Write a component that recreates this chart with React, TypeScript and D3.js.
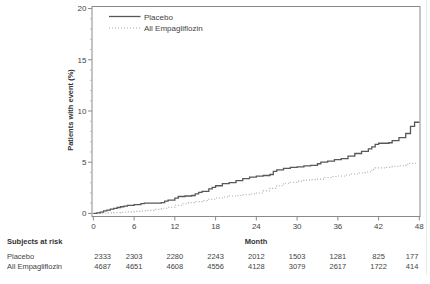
import React from "react";
import * as d3 from "d3";

const xTicks = [0, 6, 12, 18, 24, 30, 36, 42, 48];
const yTicks = [0, 5, 10, 15, 20];
const seriesNames = ["Placebo", "All Empagliflozin"];
const placeboRisk = [2333, 2303, 2280, 2243, 2012, 1503, 1281, 825, 177];
const empaRisk = [4687, 4651, 4608, 4556, 4128, 3079, 2617, 1722, 414];

const placeboMonths = [0, 0.5, 1, 1.5, 2, 2.5, 3, 3.5, 4, 4.5, 5, 6, 7, 7.5, 9, 10, 10.5, 11, 12, 12.5, 13.5, 14.5, 15, 15.5, 16, 17, 17.5, 18, 19, 20, 21, 22, 23, 24, 25, 26, 26.5, 27, 28, 29, 30, 31, 32, 33, 33.5, 34.5, 35.5, 36.5, 37.5, 38.5, 39.5, 40.5, 41, 41.5, 42, 43.5, 44, 45, 46, 46.7, 47.3, 48];
const placeboValues = [0, 0.05, 0.12, 0.25, 0.33, 0.42, 0.5, 0.58, 0.65, 0.72, 0.78, 0.85, 0.95, 1.0, 1.0, 1.05, 1.2, 1.3, 1.5, 1.65, 1.7, 1.75, 1.9, 2.05, 2.15, 2.4, 2.55, 2.7, 2.9, 3.0, 3.2, 3.4, 3.55, 3.65, 3.7, 3.8, 4.1, 4.25, 4.4, 4.5, 4.55, 4.65, 4.7, 4.85, 5.0, 5.1, 5.25, 5.35, 5.6, 5.85, 6.05, 6.3, 6.5, 6.75, 6.85, 6.9, 7.1, 7.4, 7.8, 8.5, 8.9, 8.9];

const empaMonths = [0, 1, 2, 3, 4, 5, 6, 7, 8, 9, 10, 11, 12, 13, 14, 15, 16, 17, 18, 19, 20, 21, 22, 23, 24, 25, 26, 27, 28, 29, 30, 31, 32, 33, 34, 35, 36, 37, 38, 39, 40, 41, 41.5, 43, 44, 45, 46, 46.5, 47.7];
const empaValues = [0, 0.02, 0.05, 0.08, 0.12, 0.15, 0.2, 0.25, 0.3, 0.4, 0.5, 0.6, 0.8, 0.95, 1.05, 1.15, 1.25, 1.38, 1.5, 1.6, 1.7, 1.75, 1.82, 1.9, 2.0, 2.2, 2.45, 2.7, 2.95, 3.05, 3.15, 3.25, 3.3, 3.35, 3.5, 3.6, 3.65, 3.75, 3.85, 3.95, 4.05, 4.3, 4.45, 4.5, 4.6, 4.65, 4.8, 4.9, 4.9];

const FONT = "'Liberation Sans', Arial, sans-serif";

export default function App() {
  const x = d3.scaleLinear().domain([-0.2, 48.1]).range([92, 420]);
  const y = d3.scaleLinear().domain([-0.3, 20.2]).range([216.5, 6.5]);
  const line = d3
    .line<[number, number]>()
    .x((d) => x(d[0]))
    .y((d) => y(d[1]))
    .curve(d3.curveStepAfter);
  const pData = placeboMonths.map((m, i) => [m, placeboValues[i]] as [number, number]);
  const eData = empaMonths.map((m, i) => [m, empaValues[i]] as [number, number]);
  const minor = d3.range(0, 21, 1).filter((v) => v % 5 !== 0);
  const left = x.range()[0];
  const right = x.range()[1];
  const top = y.range()[1];
  const bottom = y.range()[0];
  const axisColor = "#8a8a8a";
  const textColor = "#444";

  const riskX = (i: number) => {
    if (i === 0) return { x: x(xTicks[0]) + 1, anchor: "start" };
    if (i === xTicks.length - 1) return { x: x(xTicks[i]) - 1, anchor: "end" };
    return { x: x(xTicks[i]), anchor: "middle" };
  };

  return (
    <svg
      width={430}
      height={284}
      style={{ position: "absolute", left: 0, top: 0, background: "#fff" }}
      fontFamily={FONT}
    >
      <rect x={0} y={0} width={430} height={284} fill="#fff" />
      {/* faint image border */}
      <line x1={426.5} x2={426.5} y1={0} y2={275} stroke="#ececec" />
      {/* frame */}
      <rect
        x={left}
        y={top}
        width={right - left}
        height={bottom - top}
        fill="none"
        stroke={axisColor}
        strokeWidth={1}
      />
      {/* y ticks */}
      {yTicks.map((t) => (
        <g key={"y" + t}>
          <line x1={left - 4} x2={left} y1={y(t)} y2={y(t)} stroke={axisColor} />
          <text
            x={left - 5.5}
            y={y(t)}
            dy="0.35em"
            textAnchor="end"
            fontSize={8}
            fill={textColor}
          >
            {t}
          </text>
        </g>
      ))}
      {minor.map((t) => (
        <line key={"m" + t} x1={left - 2} x2={left} y1={y(t)} y2={y(t)} stroke="#b0b0b0" strokeWidth={0.8} />
      ))}
      {/* x ticks */}
      {xTicks.map((t) => (
        <g key={"x" + t}>
          <line x1={x(t)} x2={x(t)} y1={bottom} y2={bottom + 4} stroke={axisColor} />
          <text
            x={x(t)}
            y={bottom + 10}
            dy="0.35em"
            textAnchor="middle"
            fontSize={8}
            fill={textColor}
          >
            {t}
          </text>
        </g>
      ))}
      {/* axis titles */}
      <text
        transform={`translate(70,110) rotate(-90)`}
        textAnchor="middle"
        dy="0.35em"
        fontSize={7.5}
        fontWeight="bold"
        fill="#333"
      >
        Patients with event (%)
      </text>
      <text x={256} y={241} dy="0.35em" textAnchor="middle" fontSize={7.5} fontWeight="bold" fill="#333">
        Month
      </text>
      {/* curves */}
      <path d={line(eData) || ""} fill="none" stroke="#a8a8a8" strokeWidth={1.1} strokeDasharray="1 2" />
      <path d={line(pData) || ""} fill="none" stroke="#585858" strokeWidth={1.3} />
      {/* legend */}
      <line x1={109} x2={140.5} y1={16.5} y2={16.5} stroke="#585858" strokeWidth={1.3} />
      <text x={144} y={17} dy="0.35em" fontSize={8} fill={textColor}>
        {seriesNames[0]}
      </text>
      <line x1={109} x2={140.5} y1={28} y2={28} stroke="#a8a8a8" strokeWidth={1.1} strokeDasharray="1 2" />
      <text x={144} y={28.5} dy="0.35em" fontSize={8} fill={textColor}>
        {seriesNames[1]}
      </text>
      {/* risk table */}
      <text x={7} y={241} dy="0.35em" fontSize={7.5} fontWeight="bold" fill="#333">
        Subjects at risk
      </text>
      <text x={7} y={256} dy="0.35em" fontSize={7.5} fill={textColor}>
        {seriesNames[0]}
      </text>
      <text x={7} y={266} dy="0.35em" fontSize={7.5} fill={textColor}>
        {seriesNames[1]}
      </text>
      {placeboRisk.map((v, i) => {
        const p = riskX(i);
        return (
          <text key={"pr" + i} x={p.x} y={256} dy="0.35em" textAnchor={p.anchor} fontSize={7.5} fill={textColor}>
            {v}
          </text>
        );
      })}
      {empaRisk.map((v, i) => {
        const p = riskX(i);
        return (
          <text key={"er" + i} x={p.x} y={266} dy="0.35em" textAnchor={p.anchor} fontSize={7.5} fill={textColor}>
            {v}
          </text>
        );
      })}
    </svg>
  );
}
